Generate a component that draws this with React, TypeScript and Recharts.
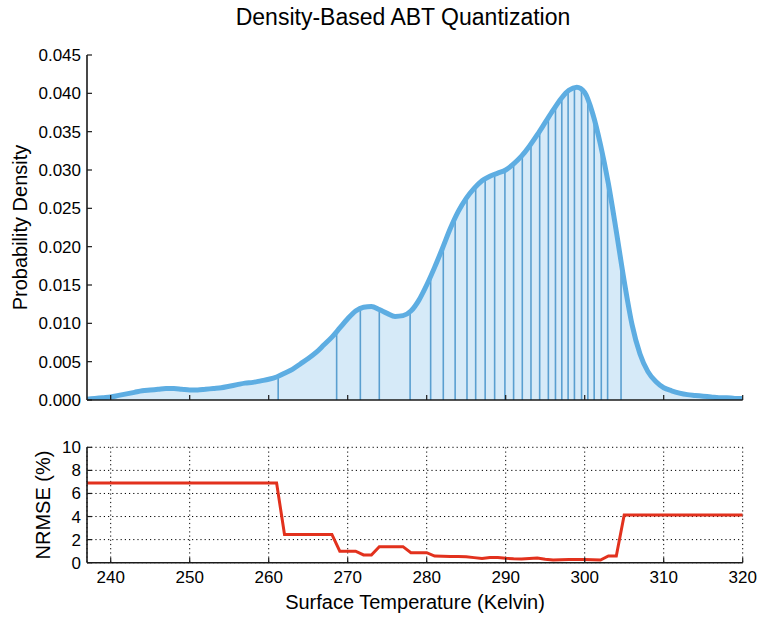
import React from 'react';
import { ComposedChart, LineChart, Area, Line, XAxis, YAxis, ReferenceLine, CartesianGrid } from 'recharts';

// ---- data ----
const temps = [
  237, 238, 239, 240, 241, 242, 243, 244, 245, 246, 247, 248, 249, 250,
  251, 252, 253, 254, 255, 256, 257, 258, 259, 260, 261, 262, 263, 264,
  265, 266, 267, 268, 269, 270, 271, 272, 273, 274, 275, 276, 277, 278,
  279, 280, 281, 282, 283, 284, 285, 286, 287, 288, 289, 290, 291, 292,
  293, 294, 295, 296, 297, 298, 299, 300, 301, 302, 303, 304, 305, 306,
  307, 308, 309, 310, 311, 312, 313, 314, 315, 316, 317, 318, 319, 320,
];
const density = [
  0.0001, 0.0002, 0.0003, 0.0004, 0.0006, 0.0008, 0.0010, 0.0012, 0.0013, 0.0014, 0.0015, 0.0015, 0.0014, 0.0013,
  0.0013, 0.0014, 0.0015, 0.0016, 0.0018, 0.0020, 0.0022, 0.0023, 0.0025, 0.0027, 0.0030, 0.0035, 0.0040, 0.0047,
  0.0054, 0.0062, 0.0072, 0.0082, 0.0094, 0.0106, 0.0116, 0.0121, 0.0122, 0.0118, 0.0113, 0.0109, 0.0110, 0.0116,
  0.0130, 0.0150, 0.0173, 0.0198, 0.0224, 0.0246, 0.0263, 0.0276, 0.0286, 0.0292, 0.0296, 0.0300, 0.0308, 0.0318,
  0.0331, 0.0346, 0.0362, 0.0378, 0.0393, 0.0404, 0.0408, 0.0401, 0.0374, 0.0333, 0.0282, 0.0220, 0.0155, 0.0098,
  0.0060, 0.0037, 0.0024, 0.0016, 0.0012, 0.0009, 0.0007, 0.0006, 0.0005, 0.0004, 0.0003, 0.0003, 0.0002, 0.0002,
];
const boundaries = [
  261.2, 268.6, 271.6, 274.0, 277.9, 280.5, 282.1, 283.6, 285.1, 286.2,
  287.4, 288.6, 289.9, 291.0, 292.1, 293.2, 294.3, 295.4, 296.3, 297.1,
  297.9, 298.7, 299.6, 300.4, 301.2, 302.1, 302.9, 304.6,
];
const nrmseTemps = [
  237, 261, 262, 268, 269, 271, 272, 273, 274, 277, 278, 280, 281, 282,
  283, 284, 285, 286, 287, 288, 289, 290, 291, 292, 293, 294, 295, 296,
  297, 298, 299, 300, 301, 302, 303, 304, 305, 320,
];
const nrmseValues = [
  6.9, 6.9, 2.45, 2.45, 1.0, 1.0, 0.67, 0.67, 1.39, 1.39, 0.87, 0.87, 0.58, 0.55,
  0.53, 0.53, 0.52, 0.44, 0.36, 0.46, 0.44, 0.38, 0.34, 0.32, 0.36, 0.40, 0.30, 0.23,
  0.25, 0.27, 0.28, 0.27, 0.25, 0.23, 0.58, 0.58, 4.13, 4.13,
];
const xTicks = [240, 250, 260, 270, 280, 290, 300, 310, 320];
const densityTicks = [0, 0.005, 0.01, 0.015, 0.02, 0.025, 0.03, 0.035, 0.04, 0.045];
const nrmseTicks = [0, 2, 4, 6, 8, 10];

const TITLE = 'Density-Based ABT Quantization';
const XLABEL = 'Surface Temperature (Kelvin)';
const YLABEL_TOP = 'Probability Density';
const YLABEL_BOTTOM = 'NRMSE (%)';

// ---- helpers ----
const FONT = '"Liberation Sans", Arial, Helvetica, sans-serif';
const SPINE = '#1a1a1a';
const TL = 5;
const TICK_FONT = 17;

const densityData = temps.map((t, i) => ({ t, d: density[i] }));
const nrmseData = nrmseTemps.map((t, i) => ({ t, e: nrmseValues[i] }));

function densityAt(t: number): number {
  for (let i = 0; i < temps.length - 1; i++) {
    if (t >= temps[i] && t <= temps[i + 1]) {
      const f = (t - temps[i]) / (temps[i + 1] - temps[i]);
      return density[i] + f * (density[i + 1] - density[i]);
    }
  }
  return 0;
}

function BottomTick(props: any) {
  const { x, y, payload, showLabel } = props;
  return (
    <g>
      <line x1={x} x2={x} y1={y} y2={y - TL} stroke={SPINE} strokeWidth={1.2} />
      {showLabel ? (
        <text x={x} y={y + 20} textAnchor="middle" fontSize={TICK_FONT} fontFamily={FONT} fill="#000">
          {payload.value}
        </text>
      ) : null}
    </g>
  );
}
function TopTick(props: any) {
  const { x, y } = props;
  return <line x1={x} x2={x} y1={y} y2={y + TL} stroke={SPINE} strokeWidth={1.2} />;
}
function LeftTick(props: any) {
  const { x, y, payload, digits } = props;
  const v = Number(payload.value);
  return (
    <g>
      <line x1={x} x2={x + TL} y1={y} y2={y} stroke={SPINE} strokeWidth={1.2} />
      <text x={x - 6} y={y + 6} textAnchor="end" fontSize={TICK_FONT} fontFamily={FONT} fill="#000">
        {digits ? v.toFixed(digits) : String(v)}
      </text>
    </g>
  );
}
function RightTick(props: any) {
  const { x, y } = props;
  return <line x1={x} x2={x - TL} y1={y} y2={y} stroke={SPINE} strokeWidth={1.2} />;
}

const axisLine = { stroke: SPINE, strokeWidth: 1.6 };

export default function App() {
  return (
    <div style={{ position: 'absolute', left: 0, top: 0, width: 759, height: 617, background: '#fff' }}>
      <div style={{ position: 'absolute', left: 0, top: 0 }}>
        <ComposedChart width={759} height={420} data={densityData} margin={{ top: 55, right: 16.3, bottom: 0, left: 0 }}>
          <XAxis dataKey="t" type="number" domain={[237, 320]} ticks={xTicks} allowDataOverflow
            height={20} tickSize={0} tickMargin={0} axisLine={axisLine} tickLine={false}
            tick={<BottomTick showLabel={false} />} interval={0} />
          <XAxis xAxisId="top" orientation="top" dataKey="t" type="number" domain={[237, 320]} ticks={xTicks} allowDataOverflow
            height={0} tickSize={0} tickMargin={0} axisLine={axisLine} tickLine={false}
            tick={<TopTick />} interval={0} />
          <YAxis type="number" domain={[0, 0.045]} ticks={densityTicks} width={87} allowDataOverflow
            tickSize={0} tickMargin={0} axisLine={axisLine} tickLine={false}
            tick={<LeftTick digits={3} />} interval={0} />
          <YAxis yAxisId="right" orientation="right" type="number" domain={[0, 0.045]} ticks={densityTicks} width={0}
            tickSize={0} tickMargin={0} axisLine={axisLine} tickLine={false}
            tick={<RightTick />} interval={0} />
          <Area dataKey="d" type="monotone" stroke="none" fill="#d6eaf8" fillOpacity={1} isAnimationActive={false} />
          {boundaries.map((b) => (
            <ReferenceLine key={b} segment={[{ x: b, y: 0 }, { x: b, y: densityAt(b) }]}
              stroke="#5a9fd0" strokeWidth={1.6} />
          ))}
          <Line dataKey="d" type="monotone" stroke="#5dade2" strokeWidth={5} dot={false} activeDot={false}
            isAnimationActive={false} />
        </ComposedChart>
      </div>
      <div style={{ position: 'absolute', left: 0, top: 420 }}>
        <LineChart width={759} height={197} data={nrmseData} margin={{ top: 27.3, right: 16.3, bottom: 0, left: 0 }}>
          <CartesianGrid stroke="#000" strokeWidth={1} strokeDasharray="1.2 3" />
          <XAxis dataKey="t" type="number" domain={[237, 320]} ticks={xTicks} allowDataOverflow
            height={54.3} tickSize={0} tickMargin={0} axisLine={axisLine} tickLine={false}
            tick={<BottomTick showLabel />} interval={0} />
          <XAxis xAxisId="top" orientation="top" dataKey="t" type="number" domain={[237, 320]} ticks={xTicks} allowDataOverflow
            height={0} tickSize={0} tickMargin={0} axisLine={axisLine} tickLine={false}
            tick={<TopTick />} interval={0} />
          <YAxis type="number" domain={[0, 10]} ticks={nrmseTicks} width={87} allowDataOverflow
            tickSize={0} tickMargin={0} axisLine={axisLine} tickLine={false}
            tick={<LeftTick digits={0} />} interval={0} />
          <YAxis yAxisId="right" orientation="right" type="number" domain={[0, 10]} ticks={nrmseTicks} width={0}
            tickSize={0} tickMargin={0} axisLine={axisLine} tickLine={false}
            tick={<RightTick />} interval={0} />
          <Line dataKey="e" type="linear" stroke="#e2311d" strokeWidth={3} dot={false} activeDot={false}
            isAnimationActive={false} />
        </LineChart>
      </div>
      <svg width={759} height={617} style={{ position: 'absolute', left: 0, top: 0, pointerEvents: 'none' }}>
        <text x={403} y={25} textAnchor="middle" fontSize={23} fontFamily={FONT} fill="#000">{TITLE}</text>
        <text x={415} y={609} textAnchor="middle" fontSize={20} fontFamily={FONT} fill="#000">{XLABEL}</text>
        <text x={20} y={227.5} textAnchor="middle" dominantBaseline="central" fontSize={20} fontFamily={FONT} fill="#000"
          transform="rotate(-90, 20, 227.5)">{YLABEL_TOP}</text>
        <text x={43} y={505} textAnchor="middle" dominantBaseline="central" fontSize={20} fontFamily={FONT} fill="#000"
          transform="rotate(-90, 43, 505)">{YLABEL_BOTTOM}</text>
      </svg>
    </div>
  );
}
